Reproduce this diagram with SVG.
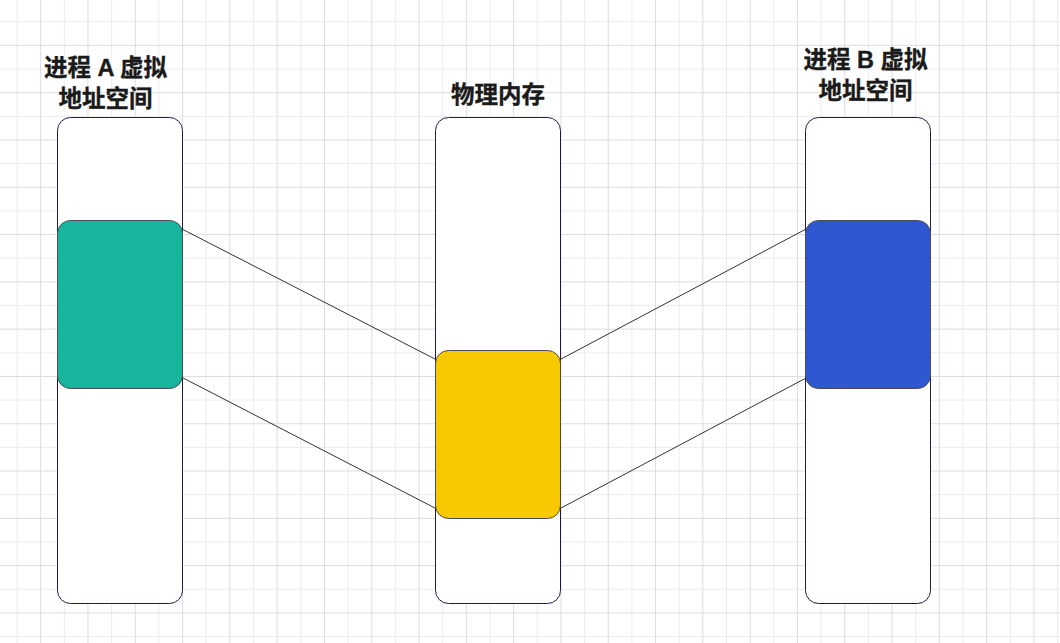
<svg xmlns="http://www.w3.org/2000/svg" width="1060" height="643" viewBox="0 0 1060 643">
<defs>
<pattern id="grid" patternUnits="userSpaceOnUse" x="16.5" y="21.2" width="47.3" height="47.3">
<rect x="0" y="0" width="1" height="47.3" fill="#ececec"/>
<rect x="0" y="0" width="47.3" height="1" fill="#ececec"/>
<rect x="23.65" y="0" width="1" height="47.3" fill="#dcdcdc"/>
<rect x="0" y="23.65" width="47.3" height="1" fill="#dcdcdc"/>
</pattern>
<style>
.col{fill:#ffffff;stroke:#1c1c4c;stroke-width:1}
.blk{stroke:#4a4a5a;stroke-width:1}
.lbl{font-family:"Liberation Sans","Noto Sans CJK SC",sans-serif;font-size:23.5px;font-weight:bold;fill:#1a1a1a;stroke:#1a1a1a;stroke-width:0.35;text-anchor:middle}
.conn{stroke:#333333;stroke-width:1;fill:none}
</style>
</defs>
<rect width="1060" height="643" fill="#ffffff"/>
<rect width="1060" height="643" fill="url(#grid)"/>

<g id="colA">
<rect class="col" x="57.5" y="117.5" width="125" height="486" rx="13"/>
<rect class="blk" x="57.5" y="220.5" width="125" height="168" rx="13" fill="#17b69c"/>
<text class="lbl" x="105.5" y="75.8">进程 A 虚拟</text>
<text class="lbl" x="105.5" y="106.8">地址空间</text>
</g>

<g id="colM">
<rect class="col" x="435.5" y="117.5" width="125" height="486" rx="13"/>
<rect class="blk" x="435.5" y="350.5" width="125" height="168" rx="13" fill="#f9c900"/>
<text class="lbl" x="498" y="102.8">物理内存</text>
</g>

<g id="colB">
<rect class="col" x="805.5" y="117.5" width="125" height="486" rx="13"/>
<rect class="blk" x="805.5" y="220.5" width="125" height="168" rx="13" fill="#2f58d0"/>
<text class="lbl" x="865.5" y="67.8">进程 B 虚拟</text>
<text class="lbl" x="865.5" y="98.8">地址空间</text>
</g>

<g id="connectors">
<line class="conn" x1="182.5" y1="229.3" x2="435.5" y2="359.3"/>
<line class="conn" x1="182.5" y1="377.7" x2="435.5" y2="508.3"/>
<line class="conn" x1="560.5" y1="359.3" x2="805.5" y2="229.3"/>
<line class="conn" x1="560.5" y1="508.3" x2="805.5" y2="378.3"/>
</g>
</svg>
